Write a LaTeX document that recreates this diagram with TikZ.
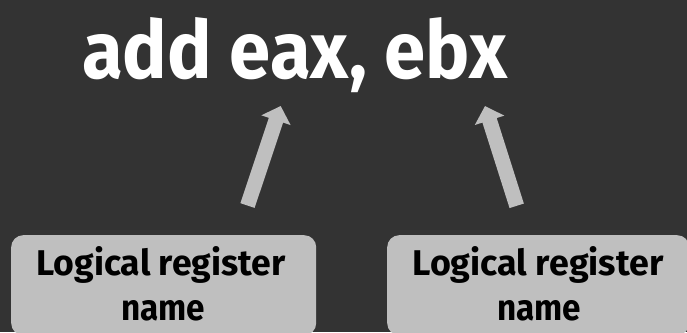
\documentclass[tikz,border=0pt]{standalone}
\usepackage{fontspec}
\setmainfont{Fira Sans}
\usetikzlibrary{arrows.meta}
\definecolor{bg}{HTML}{333333}
\definecolor{panel}{HTML}{BFBFBF}
\tikzset{
  regbox/.style={fill=panel, rounded corners=12pt, inner sep=0pt, minimum height=100pt, anchor=north west},
  pointer/.style={draw=panel, line width=15pt, line cap=butt, -{Triangle[width=30pt,length=15pt]}},
  lbl/.style={inner sep=0pt, anchor=base, text=black, font=\bfseries},
  headline/.style={inner sep=0pt, anchor=base west, text=white, font=\bfseries},
}
\begin{document}
\begin{tikzpicture}[x=1pt,y=-1pt]
  % canvas
  \fill[bg] (0,0) rectangle (687,332);
  \useasboundingbox (0,0) rectangle (687,332);

  % instruction
  \node[headline] (instr) at (82,78) {\resizebox{425pt}{61pt}{add eax, ebx}};

  % register name boxes
  \node[regbox, minimum width=305pt] (box1) at (11,235) {};
  \node[regbox, minimum width=302pt] (box2) at (387,235) {};

  \node[lbl] (box1a) at (161,275) {\resizebox{249pt}{29pt}{Logical register}};
  \node[lbl] (box1b) at (163,320) {\resizebox{84pt}{20pt}{name}};
  \node[lbl] (box2a) at (538,275) {\resizebox{251pt}{29pt}{Logical register}};
  \node[lbl] (box2b) at (539,320) {\resizebox{84pt}{20pt}{name}};

  % pointers to the operands
  \coordinate (tail1) at (247.5,205.5);
  \coordinate (tip1)  at (280.7,106);
  \coordinate (tail2) at (516.7,205.8);
  \coordinate (tip2)  at (485,106);
  \draw[pointer] (tail1) -- (tip1);
  \draw[pointer] (tail2) -- (tip2);
\end{tikzpicture}
\end{document}
